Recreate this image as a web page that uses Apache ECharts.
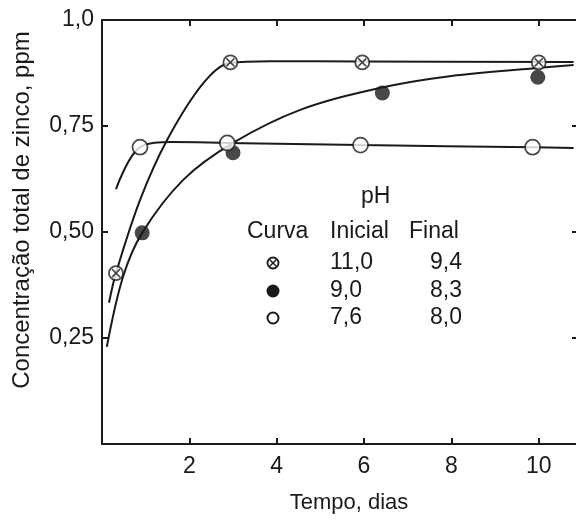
<!DOCTYPE html>
<html>
<head>
<meta charset="utf-8">
<script src="https://cdn.jsdelivr.net/npm/echarts@6/dist/echarts.min.js"></script>
<style>
  html, body { margin: 0; padding: 0; background: #fff; }
  #chart { width: 576px; height: 522px; }
</style>
</head>
<body>
<div id="chart"></div>
<script>
// tick labels
const xTicks = [2, 4, 6, 8, 10];
const yTickLabels = { 0.25: "0,25", 0.5: "0,50", 0.75: "0,75", 1: "1,0" };

// fitted curves
const curveA = [[0.16, 0.333], [0.32, 0.403], [0.87, 0.575], [1.49, 0.717],
  [2.32, 0.851], [2.94, 0.899], [3.85, 0.903], [5.96, 0.902], [10.8, 0.901]];
const curveB = [[0.11, 0.229], [0.48, 0.394], [0.92, 0.498], [1.86, 0.623],
  [3.0, 0.71], [4.54, 0.788], [6.38, 0.84], [8.0, 0.868], [9.98, 0.887], [10.8, 0.894]];
const curveC = [[0.32, 0.601], [0.87, 0.70], [1.6, 0.712], [2.87, 0.71],
  [5.92, 0.705], [9.86, 0.70], [10.8, 0.698]];

// measured points
const pointsA = [[0.32, 0.403], [2.94, 0.90], [5.96, 0.90], [10.0, 0.90]];
const pointsB = [[0.92, 0.498], [3.0, 0.687], [6.42, 0.828], [9.98, 0.865]];
const pointsC = [[0.87, 0.70], [2.87, 0.71], [5.92, 0.705], [9.86, 0.70]];

// legend table
const curveNames = ["pH 11,0", "pH 9,0", "pH 7,6"];
const phInicial = ["11,0", "9,0", "7,6"];
const phFinal = ["9,4", "8,3", "8,0"];

const ink = "#1a1a1a";
const font = "'Liberation Sans', Arial, sans-serif";
const fs = 23;

const chart = echarts.init(document.getElementById("chart"));

function lineSeries(data) {
  return {
    type: "line",
    data: data,
    smooth: 0.35,
    symbol: "none",
    lineStyle: { color: ink, width: 2 },
    silent: true,
    z: 2,
  };
}

// legend rows
const rowY = [263, 291, 318];
const txt = (s, left, top) => ({ type: "text", left: left, top: top, style: { text: s, font: `${fs}px ${font}`, fill: ink } });
const legendGraphics = [
  txt("pH", 361, 185),
  txt("Curva", 247, 220),
  txt("Inicial", 330, 220),
  txt("Final", 409, 220),
];
phInicial.forEach((v, i) => {
  legendGraphics.push(txt(v, 330, rowY[i] - 12));
  legendGraphics.push({
    type: "text", right: 576 - 462, top: rowY[i] - 12,
    style: { text: phFinal[i], font: `${fs}px ${font}`, fill: ink, align: "right" },
  });
});
// legend symbols
legendGraphics.push({ type: "circle", shape: { cx: 273, cy: rowY[0], r: 5.5 }, style: { fill: "#fff", stroke: ink, lineWidth: 1.8 } });
legendGraphics.push({ type: "line", shape: { x1: 269.5, y1: rowY[0] - 3.5, x2: 276.5, y2: rowY[0] + 3.5 }, style: { stroke: ink, lineWidth: 1.4 } });
legendGraphics.push({ type: "line", shape: { x1: 276.5, y1: rowY[0] - 3.5, x2: 269.5, y2: rowY[0] + 3.5 }, style: { stroke: ink, lineWidth: 1.4 } });
legendGraphics.push({ type: "circle", shape: { cx: 273, cy: rowY[1], r: 6.5 }, style: { fill: ink } });
legendGraphics.push({ type: "circle", shape: { cx: 273, cy: rowY[2], r: 5.5 }, style: { fill: "#fff", stroke: ink, lineWidth: 2 } });

const tick = { inside: true, length: 6, lineStyle: { color: ink, width: 2 } };
const line = { onZero: false, lineStyle: { color: ink, width: 2 } };

const option = {
  animation: false,
  backgroundColor: "#fff",
  grid: { left: 102, right: -2, top: 20, bottom: 78, outerBoundsMode: "none", containLabel: false },
  xAxis: [
    {
      type: "value",
      min: 0,
      max: 10.9,
      interval: 2,
      name: "Tempo, dias",
      nameLocation: "middle",
      nameGap: 48,
      nameTextStyle: { fontFamily: font, fontSize: 22, color: ink, padding: [0, 0, 0, 18] },
      axisLine: line,
      axisTick: tick,
      axisLabel: {
        margin: 11,
        fontFamily: font,
        fontSize: fs,
        color: ink,
        formatter: (v) => (xTicks.indexOf(v) >= 0 ? String(v) : ""),
      },
      splitLine: { show: false },
    },
    {
      type: "value",
      position: "top",
      min: 0,
      max: 10.9,
      interval: 2,
      axisLine: line,
      axisTick: tick,
      axisLabel: { show: false },
      splitLine: { show: false },
    },
  ],
  yAxis: [
    {
      type: "value",
      min: 0,
      max: 1,
      interval: 0.25,
      name: "Concentração total de zinco, ppm",
      nameLocation: "middle",
      nameGap: 68,
      nameTextStyle: { fontFamily: font, fontSize: 24, color: ink, padding: [0, 0, 0, 44] },
      axisLine: line,
      axisTick: tick,
      axisLabel: {
        margin: 8,
        fontFamily: font,
        fontSize: fs,
        color: ink,
        formatter: (v) => yTickLabels[v] || "",
      },
      splitLine: { show: false },
    },
    {
      type: "value",
      position: "right",
      min: 0,
      max: 1,
      interval: 0.25,
      axisLine: line,
      axisTick: tick,
      axisLabel: { show: false },
      splitLine: { show: false },
    },
  ],
  series: [
    lineSeries(curveA),
    lineSeries(curveB),
    lineSeries(curveC),
    {
      name: curveNames[0],
      type: "scatter",
      data: pointsA,
      symbol: "circle",
      symbolSize: 14,
      itemStyle: { color: "#fff", borderColor: ink, borderWidth: 1.8 },
      z: 3,
    },
    {
      type: "scatter",
      data: pointsA,
      symbol: "path://M0,0L10,10M10,0L0,10",
      symbolSize: 8,
      itemStyle: { color: "none", borderColor: ink, borderWidth: 1.5 },
      z: 4,
    },
    {
      name: curveNames[1],
      type: "scatter",
      data: pointsB,
      symbol: "circle",
      symbolSize: 15,
      itemStyle: { color: ink },
      z: 3,
    },
    {
      name: curveNames[2],
      type: "scatter",
      data: pointsC,
      symbol: "circle",
      symbolSize: 15,
      itemStyle: { color: "#fff", borderColor: ink, borderWidth: 1.8 },
      z: 3,
    },
  ],
  graphic: legendGraphics,
};

chart.setOption(option);
</script>
</body>
</html>
